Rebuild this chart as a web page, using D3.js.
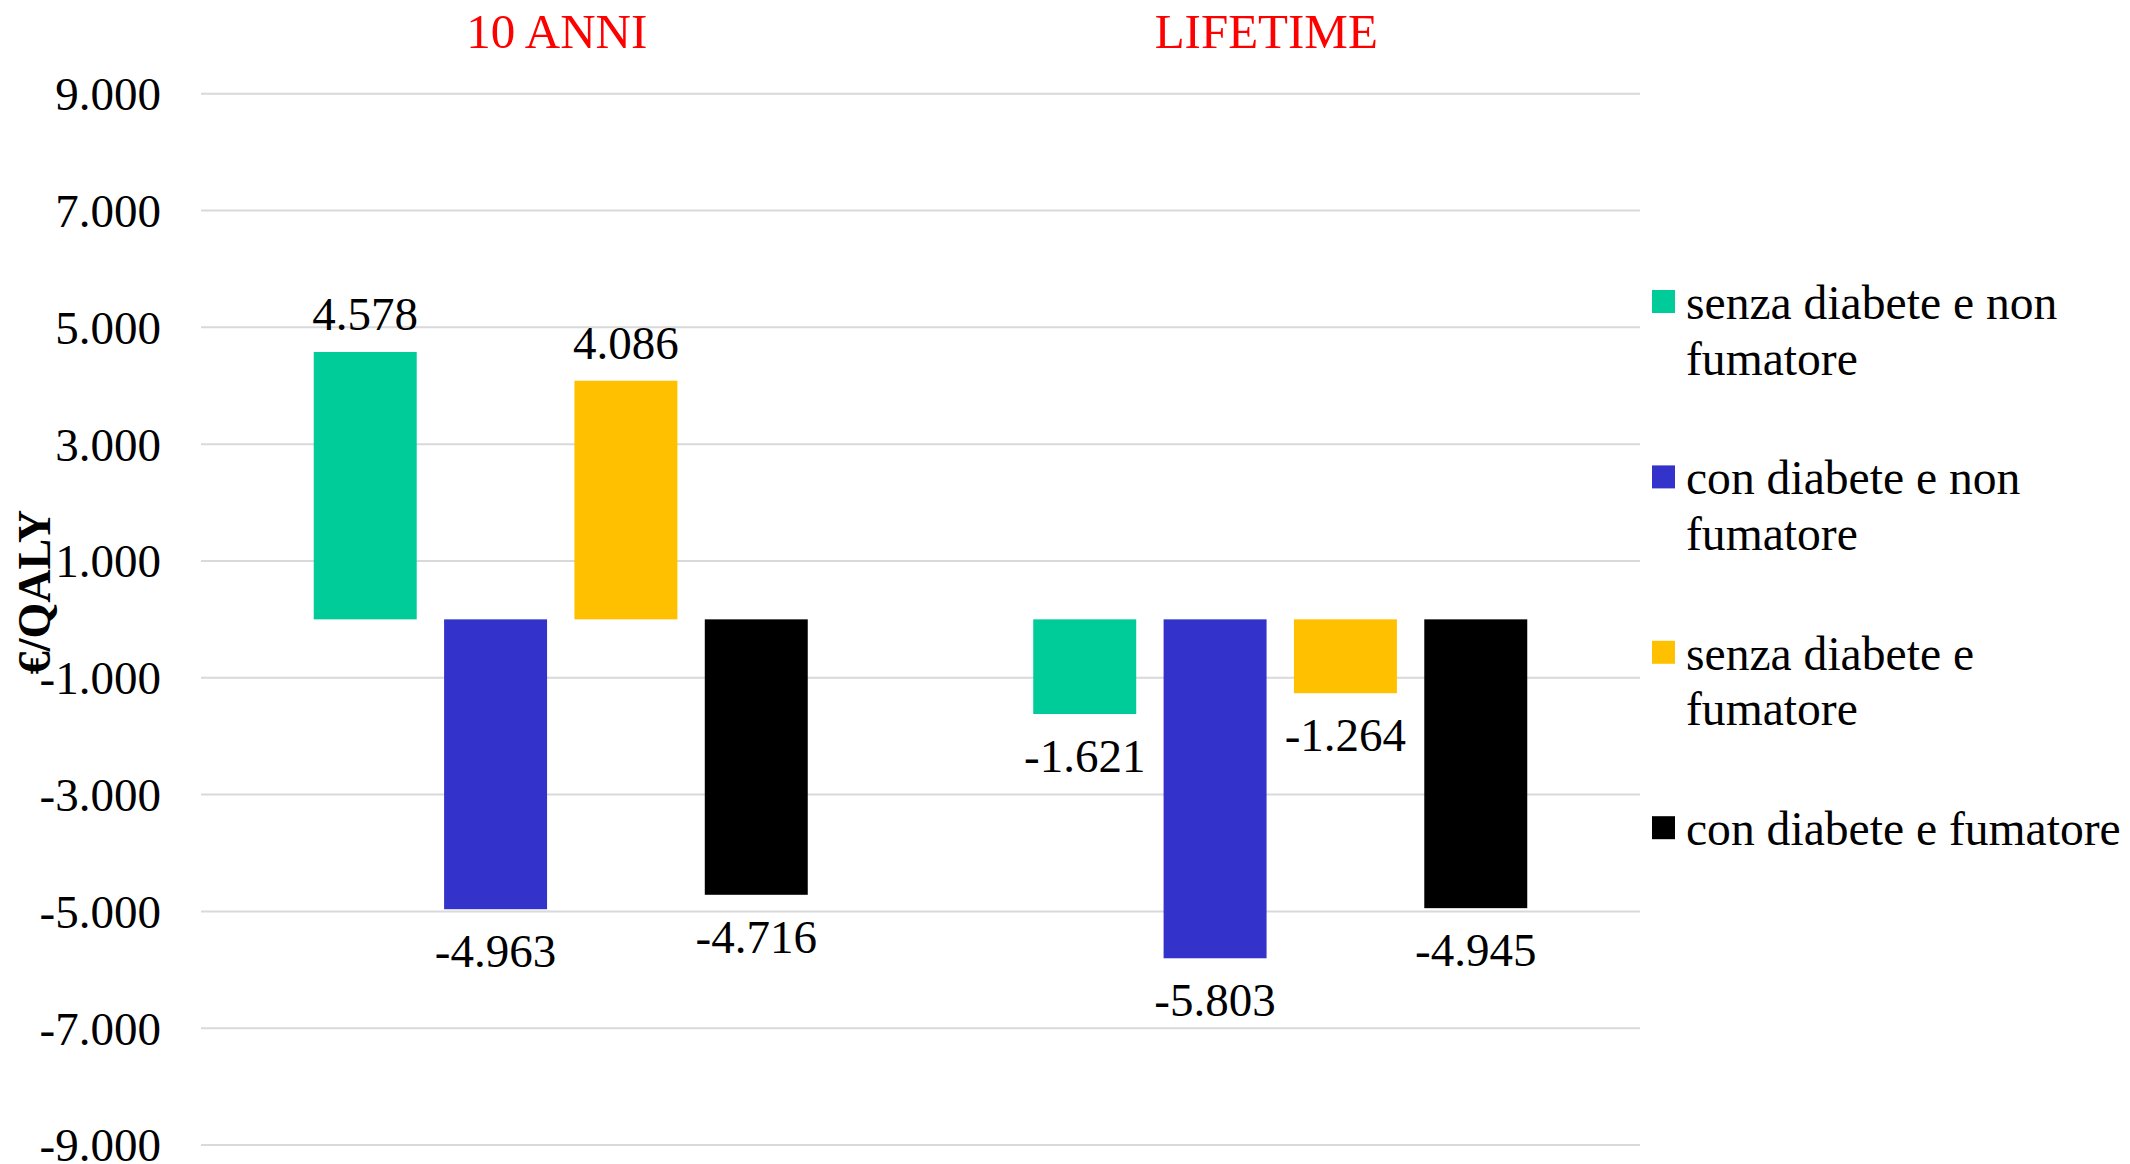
<!DOCTYPE html>
<html>
<head>
<meta charset="utf-8">
<script src="https://cdn.jsdelivr.net/npm/d3@7"></script>
<style>
  html, body { margin: 0; padding: 0; background: #ffffff; }
  svg { display: block; }
  text { font-family: "Liberation Serif", "Times New Roman", serif; }
</style>
</head>
<body>
<svg id="chart" width="2130" height="1164"></svg>
<script>
// Time horizons (groups) and patient profiles (series)
const categories = ["10 ANNI", "LIFETIME"];
const seriesNames = [
  "senza diabete e non fumatore",
  "con diabete e non fumatore",
  "senza diabete e fumatore",
  "con diabete e fumatore"
];
const legendLines = [
  ["senza diabete e non", "fumatore"],
  ["con diabete e non", "fumatore"],
  ["senza diabete e", "fumatore"],
  ["con diabete e fumatore"]
];
// €/QALY values, one array per series, ordered like categories
const senzaDiabeteNonFumatore = [4578, -1621];
const conDiabeteNonFumatore   = [-4963, -5803];
const senzaDiabeteFumatore    = [4086, -1264];
const conDiabeteFumatore      = [-4716, -4945];
const seriesValues = [senzaDiabeteNonFumatore, conDiabeteNonFumatore, senzaDiabeteFumatore, conDiabeteFumatore];
const seriesColors = ["#00CC99", "#3333CC", "#FFC000", "#000000"];
const yTicks = [-9000, -7000, -5000, -3000, -1000, 1000, 3000, 5000, 7000, 9000];
const yTitle = "€/QALY";

const itLocale = d3.formatLocale({ decimal: ",", thousands: ".", grouping: [3], currency: ["€", ""], minus: "-" });
const fmt = itLocale.format(",d");

const svg = d3.select("#chart");
const plot = { left: 201, right: 1640, top: 93.7, bottom: 1145 };

const y = d3.scaleLinear().domain([-9000, 9000]).range([plot.bottom, plot.top]);
const x0 = d3.scaleBand().domain(categories).range([plot.left, plot.right]).padding(0);
const x1 = d3.scaleBand().domain(seriesNames).range([0, x0.bandwidth()])
  .paddingInner(0.21).paddingOuter(0.865);

// gridlines
svg.append("g").selectAll("line").data(yTicks).join("line")
  .attr("x1", plot.left).attr("x2", plot.right)
  .attr("y1", d => y(d)).attr("y2", d => y(d))
  .attr("stroke", "#D9D9D9").attr("stroke-width", 2);

// y axis labels (no domain line, no ticks)
const yAxis = d3.axisLeft(y).tickValues(yTicks).tickFormat(fmt).tickSize(0).tickPadding(0);
const gy = svg.append("g").attr("transform", `translate(${plot.left - 40},0)`).call(yAxis);
gy.select(".domain").remove();
gy.selectAll("text")
  .attr("font-family", "'Liberation Serif', 'Times New Roman', serif")
  .attr("font-size", 47).attr("fill", "#000").attr("dy", "0.34em");

// axis title
svg.append("text")
  .attr("transform", "translate(50,592) rotate(-90)")
  .attr("text-anchor", "middle")
  .attr("font-size", 46).attr("font-weight", "bold").attr("fill", "#000")
  .text(yTitle);

// category titles, set slightly left of each group's centre
svg.append("g").selectAll("text").data(categories).join("text")
  .attr("x", (d, i) => x0(d) + x0.bandwidth() / 2 - (i === 0 ? 4 : 14))
  .attr("y", 48)
  .attr("text-anchor", "middle")
  .attr("font-size", 49).attr("fill", "#FF0000")
  .text(d => d);

// bars
const barData = [];
categories.forEach((c, ci) => {
  seriesNames.forEach((s, si) => {
    barData.push({ cat: c, series: s, value: seriesValues[si][ci], color: seriesColors[si] });
  });
});

const groups = svg.append("g");
groups.selectAll("rect").data(barData).join("rect")
  .attr("x", d => x0(d.cat) + x1(d.series))
  .attr("width", x1.bandwidth())
  .attr("y", d => y(Math.max(0, d.value)))
  .attr("height", d => Math.abs(y(d.value) - y(0)))
  .attr("fill", d => d.color);

// value labels
groups.selectAll("text").data(barData).join("text")
  .attr("x", d => x0(d.cat) + x1(d.series) + x1.bandwidth() / 2)
  .attr("y", d => d.value >= 0 ? y(d.value) - 22 : y(d.value) + 58)
  .attr("text-anchor", "middle")
  .attr("font-size", 47).attr("fill", "#000")
  .text(d => fmt(d.value));

// legend
const legend = svg.append("g").attr("transform", "translate(1652,290)");
const items = legend.selectAll("g").data(seriesNames).join("g")
  .attr("transform", (d, i) => `translate(0,${i * 175.4})`);
items.append("rect").attr("width", 23).attr("height", 23)
  .attr("fill", (d, i) => seriesColors[i]);
items.append("text")
  .attr("x", 34).attr("y", 29)
  .attr("font-size", 47.6).attr("fill", "#000")
  .selectAll("tspan").data((d, i) => legendLines[i]).join("tspan")
  .attr("x", 34).attr("dy", (d, j) => j === 0 ? 0 : 55.5)
  .text(d => d);
</script>
</body>
</html>
